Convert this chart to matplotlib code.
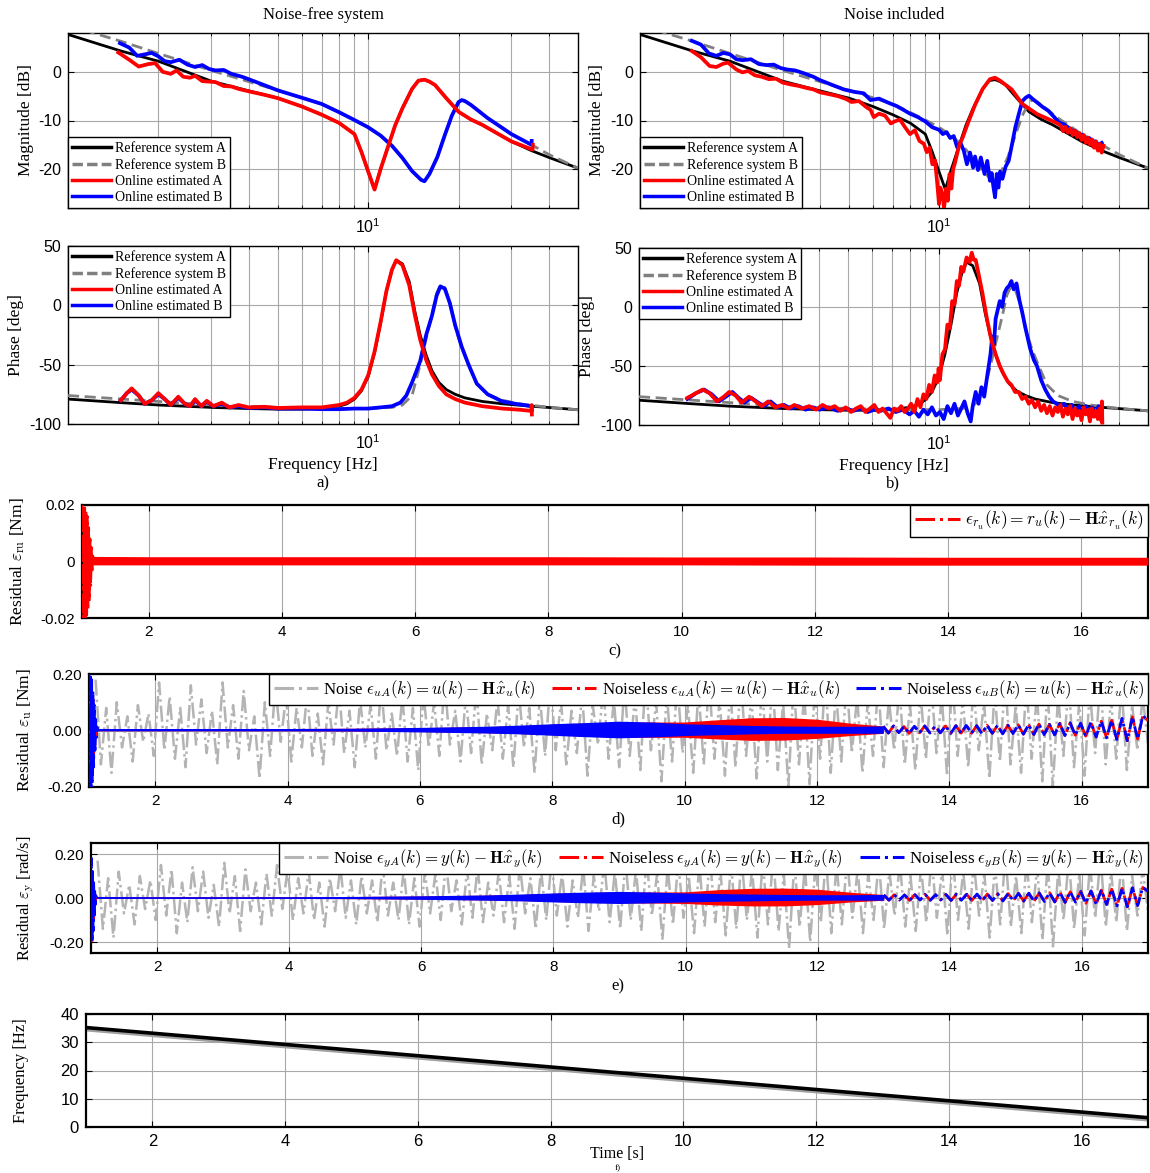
import numpy as np
import matplotlib.pyplot as plt
from matplotlib.lines import Line2D
from matplotlib.ticker import NullFormatter
import matplotlib.transforms as mtransforms

plt.rcParams['font.family'] = ['Liberation Serif', 'DejaVu Serif']
plt.rcParams['mathtext.fontset'] = 'cm'
plt.rcParams['axes.unicode_minus'] = False
SANS = ['Liberation Sans', 'DejaVu Sans']
NARROW = ['Liberation Sans Narrow', 'Liberation Sans', 'DejaVu Sans']

# ---------------- Bode data (frequency [Hz], value) ----------------
ref_A_mag = [(1, 7.7), (1.5, 4.3), (2, 2.2), (3, -1.9), (4, -3.9), (5, -5.4), (6, -7.1),
             (7, -8.8), (8, -10.5), (9, -12.8), (9.5, -16.5), (10, -20.5), (10.5, -24.2),
             (11, -20.0), (11.6, -15.7), (12.3, -11.0), (13, -7.5), (14, -3.5), (14.7, -1.8),
             (15.4, -1.6), (16, -2.0), (16.7, -2.7), (18.2, -5.4), (20, -8.2), (22, -9.8),
             (24, -10.9), (27, -12.7), (30, -14.3), (35, -16.2), (40, -17.6), (50, -19.8)]
ref_B_mag = [(1, 9.6), (1.5, 6.3), (2, 3.8), (3, 0.3), (4, -2.0), (5, -3.8), (6, -5.3),
             (7, -6.6), (8, -8.3), (9, -9.9), (10, -11.4), (11, -13.1), (12, -15.2),
             (13, -17.7), (14, -20.4), (15, -22.2), (15.4, -22.5), (16, -21.0), (17, -17.5),
             (18, -13.0), (19, -9.0), (20, -6.2), (20.5, -5.8), (21, -6.0), (22, -6.8),
             (25, -9.5), (30, -12.8), (35, -15.0), (40, -17.0), (50, -19.8)]
ref_A_phase = [(1, -79), (1.5, -82), (2, -84), (3, -86), (4, -87), (5, -87.5), (6, -87.5),
               (7, -87), (8, -85), (8.5, -83), (9, -79), (9.5, -72), (10, -60), (10.5, -40),
               (11, -15), (11.5, 12), (12, 30), (12.4, 38), (13, 35), (13.7, 20), (14.3, -5),
               (14.9, -25), (15.6, -42), (16.3, -55), (17.2, -65), (18.2, -71), (19.5, -75),
               (21, -78), (24, -81), (28, -83), (35, -85), (42, -86.5), (50, -88)]
ref_B_phase = [(1, -76), (2, -81), (3, -84), (5, -86), (7, -87), (10, -87), (12, -86),
               (13, -84), (14, -76), (14.9, -50), (15.6, -28), (16.3, -8), (16.9, 10),
               (17.4, 17), (18, 15), (18.7, 3), (19.5, -18), (20.5, -36), (21.6, -50),
               (23, -66), (25, -75), (28, -80), (32, -83), (40, -86), (50, -88)]

# noise-free estimates
est_A_mag_clean = [(1.47, 4.0), (1.6, 2.5), (1.72, 1.1), (1.85, 1.6), (1.95, 1.8), (2.07, 0.0),
                   (2.2, -0.4), (2.3, 0.3), (2.42, -1.0), (2.55, -1.2), (2.65, -0.8), (2.8, -1.9),
                   (2.95, -2.0), (3.1, -2.1), (3.3, -2.9), (3.5, -3.0), (3.7, -3.5), (4.0, -4.0),
                   (4.5, -4.7), (5, -5.4), (6, -7.1), (7, -8.8), (8, -10.5), (9, -12.8),
                   (9.5, -16.5), (10, -20.5), (10.5, -24.2), (11, -20.0), (11.6, -15.7),
                   (12.3, -11.0), (13, -7.5), (14, -3.5), (14.7, -1.8), (15.4, -1.6), (16, -2.0),
                   (16.7, -2.7), (18.2, -5.4), (20, -8.2), (22, -9.8), (24, -10.9), (27, -12.7),
                   (30, -14.3), (33, -15.3), (35.3, -16.0), (35.35, -15.0)]
est_B_mag_clean = [(1.49, 5.9), (1.6, 5.0), (1.7, 3.3), (1.8, 3.6), (1.9, 3.9), (2.0, 3.2),
                   (2.1, 2.2), (2.2, 2.0), (2.35, 2.5), (2.5, 1.5), (2.65, 1.0), (2.8, 1.4),
                   (2.95, 0.6), (3.1, 0.3), (3.3, 0.4), (3.5, -0.4), (3.8, -1.0), (4.2, -2.0),
                   (5, -3.8), (6, -5.3), (7, -6.6), (8, -8.3), (9, -9.9), (10, -11.4),
                   (11, -13.1), (12, -15.2), (13, -17.7), (14, -20.4), (15, -22.2), (15.4, -22.5),
                   (16, -21.0), (17, -17.5), (18, -13.0), (19, -9.0), (20, -6.2), (20.5, -5.8),
                   (21, -6.0), (22, -6.8), (25, -9.5), (30, -12.8), (35, -15.0), (35.05, -14.2)]
est_A_phase_clean = [(1.5, -80), (1.57, -74), (1.63, -70), (1.72, -76), (1.8, -83), (1.9, -80),
                     (2.0, -74), (2.1, -79), (2.2, -84), (2.33, -77), (2.45, -83), (2.55, -85),
                     (2.65, -79), (2.78, -85), (2.9, -80.5), (3.05, -85), (3.25, -82),
                     (3.45, -86), (3.7, -84), (4.0, -86), (4.5, -85.5), (5, -86.5), (6, -86),
                     (7, -86), (8, -84), (8.5, -82), (9, -78), (9.5, -71), (10, -59),
                     (10.5, -39), (11, -14), (11.5, 12), (12, 30), (12.4, 38), (13, 34),
                     (13.7, 17), (14.3, -8), (14.9, -29), (15.6, -46), (16.3, -58), (17.2, -68),
                     (18.2, -75), (19.5, -79), (21, -82), (24, -85), (28, -87), (32, -88),
                     (35, -89), (35.05, -84), (35.1, -92)]
est_B_phase_clean = [(1.5, -80), (1.57, -74), (1.63, -71), (1.72, -76), (1.8, -83), (1.9, -80),
                     (2.0, -75), (2.1, -79), (2.2, -84), (2.33, -78), (2.45, -83), (2.55, -85),
                     (2.65, -80), (2.78, -85), (2.9, -81), (3.05, -85), (3.25, -83),
                     (3.45, -86), (3.7, -85), (4.0, -86.5), (4.5, -86), (5, -87), (6, -87),
                     (7, -87.5), (8, -87.5), (9, -87), (10, -87), (11, -86), (12, -85),
                     (12.8, -82), (13.4, -76), (14, -65), (14.5, -55), (14.9, -47), (15.6, -25),
                     (16.3, -9), (16.9, 8), (17.4, 16), (18.0, 14), (18.7, 2), (19.5, -17),
                     (20.5, -35), (21.6, -50), (23, -66), (25, -75), (28, -81), (31, -83),
                     (35, -85)]

# estimates with measurement noise
est_A_mag_noisy = [(1.49, 4.3), (1.6, 3.0), (1.71, 1.2), (1.8, 1.0), (1.9, 1.7), (1.97, 1.9),
                   (2.1, 0.5), (2.2, -0.1), (2.3, 0.2), (2.42, -0.7), (2.55, -1.0), (2.7, -1.5),
                   (2.85, -1.4), (3.0, -2.2), (3.2, -2.6), (3.4, -2.9), (3.6, -3.3), (3.8, -3.6),
                   (4.0, -4.2), (4.3, -4.6), (4.6, -5.0), (4.9, -5.6), (5.1, -6.2), (5.4, -6.0),
                   (5.7, -7.2), (5.9, -7.8), (6.05, -9.3), (6.3, -8.6), (6.6, -9.0), (6.9, -10.6),
                   (7.1, -10.2), (7.4, -9.8), (7.7, -11.4), (8.0, -12.8), (8.3, -12.0),
                   (8.6, -14.2), (8.9, -14.8), (9.1, -16.5), (9.3, -15.6), (9.5, -19.0),
                   (9.7, -18.2), (9.85, -22.5), (10.0, -27.2), (10.1, -23.8), (10.25, -25.0),
                   (10.4, -28.0), (10.55, -24.0), (10.7, -26.5), (10.85, -21.0), (11.0, -24.0),
                   (11.15, -20.0), (11.3, -18.8), (11.5, -16.8), (11.7, -15.0), (12.0, -13.5),
                   (12.5, -10.5), (13.2, -6.8), (14.0, -3.5), (14.8, -1.5), (15.4, -1.2),
                   (16.0, -1.8), (17.5, -3.6), (19.0, -6.6), (21.3, -8.7), (23.0, -9.6),
                   (24.5, -10.4), (25.5, -11.0), (26.0, -12.2), (26.5, -11.3), (27.0, -12.5),
                   (27.5, -11.6), (28.0, -13.0), (28.5, -12.1), (29.0, -13.4), (29.5, -12.6),
                   (30.0, -14.0), (30.5, -13.0), (31.0, -14.6), (31.5, -13.5), (32.0, -15.0),
                   (32.5, -13.9), (33.0, -15.6), (33.5, -14.3), (34.0, -16.2), (34.5, -14.8),
                   (35.0, -16.6), (35.5, -15.2)]
est_B_mag_noisy = [(1.49, 6.4), (1.6, 5.6), (1.7, 3.8), (1.8, 3.3), (1.9, 3.9), (2.0, 3.6),
                   (2.1, 2.6), (2.2, 2.4), (2.35, 2.6), (2.5, 1.6), (2.65, 1.4), (2.8, 1.5),
                   (2.95, 0.8), (3.1, 0.5), (3.3, 0.3), (3.5, -0.2), (3.8, -1.0), (4.0, -1.7),
                   (4.4, -2.7), (4.8, -3.6), (5.2, -4.1), (5.6, -4.4), (5.9, -5.8), (6.3, -5.5),
                   (6.8, -6.4), (7.2, -7.0), (7.6, -7.8), (8.0, -8.6), (8.5, -9.3), (9.0, -10.2),
                   (9.5, -11.4), (10.0, -11.9), (10.3, -12.8), (10.6, -12.4), (10.9, -13.6),
                   (11.2, -13.2), (11.5, -15.5), (11.8, -14.6), (12.1, -16.2), (12.4, -19.0),
                   (12.7, -16.6), (13.0, -19.7), (13.2, -17.4), (13.5, -20.2), (13.8, -17.6),
                   (14.2, -21.0), (14.5, -18.3), (14.8, -22.4), (15.0, -20.8), (15.2, -23.6),
                   (15.4, -25.8), (15.6, -21.0), (15.8, -23.8), (16.0, -20.5), (16.3, -22.0),
                   (16.7, -19.5), (17.1, -18.3), (17.6, -14.5), (18.0, -11.4), (18.5, -8.6),
                   (19.0, -6.0), (19.5, -5.3), (20.0, -4.9), (20.6, -5.6), (21.3, -6.3),
                   (22.2, -7.2), (23.2, -8.0), (24.2, -9.2), (25.2, -10.4), (26.2, -10.8),
                   (27.0, -11.4), (27.8, -12.0), (28.6, -12.2), (29.4, -13.1), (30.2, -12.9),
                   (31.0, -13.8), (31.8, -13.6), (32.6, -14.4), (33.4, -14.3), (34.2, -15.0),
                   (35.0, -14.6)]
est_A_phase_noisy = [(1.45, -77), (1.55, -73), (1.63, -70), (1.72, -73), (1.82, -80), (1.92, -76),
                     (2.0, -72), (2.1, -75), (2.2, -81), (2.33, -76), (2.45, -80), (2.57, -84),
                     (2.7, -80), (2.85, -85), (3.0, -83), (3.15, -86), (3.3, -83), (3.5, -86),
                     (3.7, -84), (3.9, -87), (4.1, -83), (4.3, -86), (4.5, -84), (4.7, -88),
                     (4.9, -85), (5.1, -89), (5.3, -86), (5.5, -84), (5.7, -89), (5.9, -86),
                     (6.1, -83), (6.3, -89), (6.5, -86), (6.7, -90), (6.9, -94), (7.1, -86),
                     (7.3, -88), (7.5, -84), (7.7, -89), (7.9, -86), (8.1, -82), (8.3, -89),
                     (8.5, -78), (8.7, -85), (8.9, -74), (9.1, -78), (9.3, -66), (9.5, -72),
                     (9.7, -58), (9.9, -64), (10.0, -52), (10.1, -62), (10.3, -40), (10.5, -36),
                     (10.7, -15), (10.9, -18), (11.1, 5), (11.3, 2), (11.5, 22), (11.7, 18),
                     (11.9, 34), (12.1, 30), (12.4, 42), (12.7, 38), (12.9, 46), (13.1, 40),
                     (13.3, 40), (13.6, 28), (14.0, 12), (14.5, -10), (15.0, -28), (15.5, -40),
                     (16.0, -50), (16.5, -57), (17.0, -63), (17.5, -66), (18.0, -72), (18.5, -72),
                     (19.0, -78), (19.5, -76), (20.0, -82), (20.5, -79), (21.0, -85), (21.5, -80),
                     (22.0, -88), (22.5, -83), (23.0, -90), (23.5, -84), (24.0, -92), (24.5, -85),
                     (25.0, -89), (25.5, -83), (26.0, -93), (26.5, -86), (27.0, -91), (27.5, -84),
                     (28.0, -95), (28.5, -86), (29.0, -92), (29.5, -88), (30.0, -96), (30.5, -85),
                     (31.0, -91), (31.5, -87), (32.0, -97), (32.5, -86), (33.0, -93), (33.5, -88),
                     (34.0, -95), (34.5, -86), (35.0, -97), (35.1, -80), (35.2, -98)]
est_B_phase_noisy = [(1.45, -78), (1.55, -73), (1.65, -70), (1.75, -74), (1.85, -80), (1.95, -76),
                     (2.05, -72), (2.15, -77), (2.25, -81), (2.37, -77), (2.5, -81), (2.62, -84),
                     (2.75, -80), (2.9, -85), (3.05, -83), (3.2, -86), (3.4, -84), (3.6, -87),
                     (3.8, -85), (4.0, -87), (4.3, -85), (4.6, -88), (4.9, -86), (5.2, -88),
                     (5.5, -86), (5.8, -89), (6.1, -87), (6.4, -88), (6.8, -86), (7.2, -89),
                     (7.6, -87), (8.0, -91), (8.3, -88), (8.6, -93), (8.9, -87), (9.2, -91),
                     (9.5, -85), (9.8, -92), (10.1, -89), (10.4, -95), (10.7, -84), (11.0, -90),
                     (11.3, -82), (11.6, -92), (11.9, -86), (12.2, -80), (12.5, -90), (12.8, -97),
                     (13.0, -84), (13.3, -72), (13.6, -82), (13.9, -68), (14.2, -76), (14.5, -60),
                     (14.7, -50), (14.9, -40), (15.1, -25), (15.3, -32), (15.5, -10), (15.7, -4),
                     (16.0, 5), (16.3, 0), (16.6, 12), (16.9, 16), (17.2, 18), (17.5, 22),
                     (17.8, 15), (18.2, 20), (18.6, 6), (19.0, -4), (19.5, -18), (20.2, -35),
                     (20.8, -45), (21.3, -50), (22.0, -62), (22.7, -70), (23.4, -76), (24.1, -80),
                     (24.8, -82), (25.5, -85), (26.2, -82), (27.0, -87), (27.8, -83), (28.6, -89),
                     (29.4, -84), (30.2, -90), (31.0, -84), (31.8, -89), (32.6, -85), (33.4, -90),
                     (34.2, -84), (35.0, -88)]

bode_labels = ['Reference system A', 'Reference system B', 'Online estimated A', 'Online estimated B']

# ---------------- residual data ----------------
# c) r_u residual: start-up transient and envelope of the fast ripple
c_transient = [0.02, -0.02, 0.02, -0.02, 0.019, -0.02, 0.018, -0.019, 0.016, -0.017,
               0.012, -0.014, 0.008, -0.009, 0.005, -0.004, 0.002, 0.001]
c_env_t = [1.15, 2, 4, 6, 8, 10, 12, 14, 16, 17]
c_env_hi = [0.0018, 0.0017, 0.0017, 0.0017, 0.0017, 0.0016, 0.0016, 0.0015, 0.0015, 0.0015]
c_env_lo = [-0.0012, -0.0012, -0.0012, -0.0012, -0.0012, -0.0012, -0.0013, -0.0013, -0.0013, -0.0013]

# d) u residual
d_noise = [0.18, -0.12, 0.08, -0.15, 0.10, -0.06, 0.05, -0.11, 0.09, -0.04,
           0.06, -0.09, 0.17, -0.07, 0.12, -0.10, 0.08, -0.13, 0.16, -0.05,
           0.11, -0.08, 0.07, -0.12, 0.17, -0.06, 0.09, -0.10, 0.14, -0.07,
           0.05, -0.17, 0.10, -0.09, 0.16, -0.04, 0.12, -0.11, 0.08, -0.06,
           0.13, -0.09, 0.06, -0.12, 0.10, -0.05, 0.15, -0.08, 0.07, -0.13,
           0.11, -0.06, 0.09, -0.10, 0.16, -0.07, 0.06, -0.09, 0.12, -0.11,
           0.08, -0.14, 0.13, -0.06, 0.10, -0.09, 0.17, -0.05, 0.07, -0.11,
           0.12, -0.08, 0.15, -0.12, 0.06, -0.07, 0.11, -0.10, 0.09, -0.13,
           0.14, -0.06, 0.08, -0.15, 0.12, -0.09, 0.18, -0.07, 0.10, -0.12,
           0.07, -0.08, 0.13, -0.16, 0.09, -0.05, 0.15, -0.10, 0.11, -0.13,
           0.16, -0.09, 0.12, -0.14, 0.19, -0.07, 0.10, -0.18, 0.13, -0.11,
           0.17, -0.08, 0.09, -0.15, 0.14, -0.12, 0.18, -0.10, 0.11, -0.16,
           0.15, -0.13, 0.19, -0.09, 0.12, -0.17, 0.16, -0.11, 0.18, -0.14,
           0.10, -0.20, 0.17, -0.12, 0.13, -0.19, 0.15, -0.10, 0.19, -0.15,
           0.14, -0.11, 0.17, -0.08, 0.12, -0.15, 0.10, -0.09, 0.16, -0.13,
           0.11, -0.07, 0.15, -0.12, 0.09, -0.14, 0.13, -0.10, 0.17, -0.08,
           0.12, -0.16, 0.18, -0.09, 0.11, -0.13, 0.15, -0.07, 0.10, -0.17,
           0.14, -0.11, 0.19, -0.12, 0.09, -0.15, 0.16, -0.10, 0.13, -0.18,
           0.15, -0.20, 0.12, -0.09, 0.17, -0.13, 0.10, -0.16, 0.14, -0.08,
           0.18, -0.12, 0.11, -0.10, 0.16, -0.14, 0.09, -0.07, 0.12, -0.05]
d_transient_A = [0.17, -0.18, 0.16, -0.17, 0.14, -0.15, 0.11, -0.10, 0.07, -0.05, 0.03, -0.02, 0.01, 0.004]
d_transient_B = [0.20, -0.20, 0.20, -0.20, 0.18, -0.19, 0.14, -0.13, 0.09, -0.07, 0.04, -0.025, 0.012, 0.004]
d_env_t = [1.12, 2, 4, 5, 6, 7, 7.5, 8, 8.5, 9, 9.5, 10, 10.5, 11, 11.5, 12, 12.5, 13]
d_A_hi = [0.007, 0.007, 0.007, 0.008, 0.010, 0.014, 0.017, 0.022, 0.026, 0.030, 0.030, 0.030, 0.038, 0.045, 0.046, 0.040, 0.026, 0.016]
d_A_lo = [-0.001, -0.001, -0.001, -0.002, -0.004, -0.008, -0.011, -0.015, -0.020, -0.024, -0.024, -0.024, -0.030, -0.035, -0.034, -0.028, -0.018, -0.010]
d_B_hi = [0.007, 0.007, 0.007, 0.008, 0.011, 0.015, 0.019, 0.024, 0.028, 0.033, 0.030, 0.024, 0.021, 0.018, 0.016, 0.015, 0.015, 0.016]
d_B_lo = [-0.001, -0.001, -0.001, -0.002, -0.005, -0.009, -0.012, -0.017, -0.022, -0.026, -0.023, -0.018, -0.015, -0.012, -0.010, -0.010, -0.010, -0.010]
d_late = [0.015, -0.009, 0.016, -0.008, 0.014, -0.010, 0.015, -0.008, 0.016, -0.009, 0.015, -0.008, 0.016,
          -0.010, 0.017, -0.009, 0.018, -0.010, 0.017, -0.011, 0.019, -0.010, 0.018, -0.012, 0.019, -0.011,
          0.020, -0.013, 0.021, -0.014, 0.023, -0.015, 0.022, -0.016, 0.025, -0.018, 0.027, -0.017, 0.026,
          -0.020, 0.029, -0.023, 0.033, -0.026, 0.036, -0.032, 0.043, -0.036, 0.048, -0.030, 0.052, 0.035]

# e) y residual
e_noise = [0.17, -0.14, 0.09, -0.18, 0.12, -0.07, 0.06, -0.12, 0.10, -0.05,
           0.08, -0.10, 0.15, -0.08, 0.13, -0.16, 0.07, -0.11, 0.14, -0.06,
           0.12, -0.09, 0.06, -0.13, 0.16, -0.07, 0.10, -0.15, 0.13, -0.06,
           0.07, -0.12, 0.11, -0.08, 0.15, -0.05, 0.13, -0.10, 0.09, -0.07,
           0.12, -0.10, 0.07, -0.13, 0.09, -0.06, 0.14, -0.09, 0.08, -0.12,
           0.10, -0.07, 0.08, -0.11, 0.15, -0.08, 0.07, -0.10, 0.13, -0.12,
           0.09, -0.13, 0.12, -0.07, 0.11, -0.10, 0.16, -0.06, 0.08, -0.12,
           0.13, -0.09, 0.14, -0.11, 0.07, -0.08, 0.12, -0.11, 0.10, -0.14,
           0.15, -0.07, 0.09, -0.14, 0.13, -0.10, 0.17, -0.08, 0.11, -0.13,
           0.08, -0.09, 0.14, -0.15, 0.10, -0.06, 0.16, -0.11, 0.12, -0.14,
           0.17, -0.10, 0.13, -0.15, 0.18, -0.08, 0.11, -0.19, 0.14, -0.12,
           0.16, -0.09, 0.10, -0.16, 0.15, -0.13, 0.19, -0.11, 0.12, -0.17,
           0.16, -0.14, 0.18, -0.10, 0.13, -0.18, 0.17, -0.12, 0.19, -0.15,
           0.11, -0.23, 0.16, -0.13, 0.14, -0.20, 0.16, -0.11, 0.18, -0.16,
           0.15, -0.12, 0.18, -0.09, 0.13, -0.16, 0.11, -0.10, 0.17, -0.14,
           0.12, -0.08, 0.16, -0.13, 0.10, -0.15, 0.14, -0.11, 0.18, -0.09,
           0.13, -0.17, 0.19, -0.10, 0.12, -0.14, 0.16, -0.08, 0.11, -0.18,
           0.15, -0.12, 0.20, -0.13, 0.10, -0.16, 0.17, -0.11, 0.14, -0.19,
           0.16, -0.22, 0.13, -0.10, 0.18, -0.14, 0.11, -0.17, 0.15, -0.09,
           0.19, -0.13, 0.12, -0.11, 0.17, -0.15, 0.10, -0.08, 0.13, -0.06]
e_transient_A = [0.0, 0.10, -0.20, 0.08, -0.10, 0.05, -0.05, 0.02, -0.02, 0.01, 0.003]
e_transient_B = [0.0, 0.18, -0.19, 0.12, -0.15, 0.07, -0.08, 0.03, -0.03, 0.01, 0.003]
e_env_t = [1.08, 2, 4, 5, 6, 7, 7.5, 8, 8.5, 9, 9.5, 10, 10.5, 11, 11.5, 12, 12.5, 13]
e_A_hi = [0.007, 0.006, 0.006, 0.007, 0.009, 0.013, 0.016, 0.021, 0.025, 0.027, 0.027, 0.028, 0.038, 0.044, 0.045, 0.040, 0.026, 0.016]
e_A_lo = [-0.002, -0.002, -0.002, -0.003, -0.005, -0.009, -0.012, -0.016, -0.020, -0.022, -0.023, -0.025, -0.032, -0.036, -0.036, -0.030, -0.018, -0.010]
e_B_hi = [0.007, 0.006, 0.006, 0.007, 0.010, 0.014, 0.018, 0.023, 0.027, 0.030, 0.027, 0.023, 0.020, 0.018, 0.016, 0.015, 0.015, 0.016]
e_B_lo = [-0.002, -0.002, -0.002, -0.003, -0.006, -0.010, -0.013, -0.018, -0.022, -0.025, -0.022, -0.018, -0.015, -0.013, -0.011, -0.010, -0.010, -0.010]
e_late = [0.014, -0.010, 0.015, -0.009, 0.014, -0.011, 0.015, -0.009, 0.016, -0.010, 0.015, -0.009, 0.016,
          -0.011, 0.017, -0.010, 0.017, -0.011, 0.018, -0.012, 0.018, -0.011, 0.019, -0.013, 0.020, -0.012,
          0.021, -0.014, 0.022, -0.015, 0.023, -0.016, 0.024, -0.018, 0.026, -0.020, 0.028, -0.019, 0.030,
          -0.024, 0.032, -0.028, 0.036, -0.030, 0.040, -0.036, 0.044, -0.040, 0.046, -0.034, 0.048, 0.030]

# f) excitation frequency
sweep_t = [1, 17]
sweep_f = [35.2, 3.3]

# ---------------- figure ----------------
W, H = 1150, 1173
fig = plt.figure(figsize=(W / 100, H / 100), dpi=100)


def box(x0, y0, x1, y1):
    return fig.add_axes([x0 / W, 1 - y1 / H, (x1 - x0) / W, (y1 - y0) / H])


def xy(pairs):
    a = np.array(pairs, dtype=float)
    return a[:, 0], a[:, 1]


def bode(ax, refA, refB, estA, estB, ylim, yticks, ylabel, loc, labx):
    ax.plot(*xy(refA), color='k', lw=2.0, zorder=3)
    ax.plot(*xy(refB), color='#808080', lw=2.0, ls=(0, (4, 2)), zorder=3)
    ax.plot(*xy(estB), color='#0000ff', lw=2.7, zorder=4)
    ax.plot(*xy(estA), color='#ff0000', lw=2.7, zorder=5)
    ax.set_xscale('log')
    ax.set_xlim(1, 50)
    ax.set_ylim(*ylim)
    ax.set_yticks(yticks)
    ax.set_xticks([10])
    ax.set_xticklabels([r'$\mathregular{10^1}$'])
    ax.set_xticks([2, 3, 4, 5, 6, 7, 8, 9, 20, 30, 40], minor=True)
    ax.xaxis.set_minor_formatter(NullFormatter())
    ax.grid(True, which='both', color='#a8a8a8', lw=0.8)
    ax.tick_params(which='both', direction='in', top=True, right=True, labelsize=11.5,
                   labelfontfamily=SANS, length=4, pad=5)
    ax.tick_params(which='minor', length=2.5)
    ax.tick_params(axis='x', pad=7)
    ax.set_ylabel(ylabel, fontsize=12.5)
    ax.yaxis.set_label_coords(labx, 0.5)
    for s in ax.spines.values():
        s.set_linewidth(1.0)
    hs = [Line2D([], [], color='k', lw=2.5), Line2D([], [], color='#808080', lw=2.5, ls=(0, (3, 1.2))),
          Line2D([], [], color='#ff0000', lw=2.5), Line2D([], [], color='#0000ff', lw=2.5)]
    leg = ax.legend(hs, bode_labels, loc=loc, fancybox=False, edgecolor='k', framealpha=1,
                    fontsize=10, handlelength=2.8, handletextpad=0.25, borderaxespad=0,
                    labelspacing=0.22, borderpad=0.3)
    leg.get_frame().set_linewidth(1.0)
    leg.set_zorder(10)


# Bode plots
axm1 = box(68, 33, 578, 208)
bode(axm1, ref_A_mag, ref_B_mag, est_A_mag_clean, est_B_mag_clean, (-28, 8), [-20, -10, 0],
     'Magnitude [dB]', 'lower left', -0.067)
axm1.set_title('Noise-free system', fontsize=12, pad=10)
axm2 = box(640, 33, 1148, 208)
bode(axm2, ref_A_mag, ref_B_mag, est_A_mag_noisy, est_B_mag_noisy, (-28, 8), [-20, -10, 0],
     'Magnitude [dB]', 'lower left', -0.069)
axm2.set_title('Noise included', fontsize=12, pad=10)
axp1 = box(68, 246, 578, 424)
bode(axp1, ref_A_phase, ref_B_phase, est_A_phase_clean, est_B_phase_clean, (-100, 50),
     [-100, -50, 0, 50], 'Phase [deg]', 'upper left', -0.086)
axp2 = box(639, 248, 1148, 425)
bode(axp2, ref_A_phase, ref_B_phase, est_A_phase_noisy, est_B_phase_noisy, (-100, 50),
     [-100, -50, 0, 50], 'Phase [deg]', 'upper left', -0.086)
for ax in (axp1, axp2):
    ax.set_xlabel('Frequency [Hz]', fontsize=12.5, labelpad=3)


def time_axes(ax, ylabel, labx, fs=12.5):
    ax.set_xlim(1, 17)
    ax.set_xticks(range(2, 17, 2))
    ax.grid(True, color='#a8a8a8', lw=0.8)
    ax.tick_params(direction='in', top=True, right=True, labelsize=11, labelfontfamily=NARROW,
                   length=4, pad=5)
    ax.set_ylabel(ylabel, fontsize=fs)
    ax.yaxis.set_label_coords(labx, 0.5)
    for s in ax.spines.values():
        s.set_linewidth(1.6)


def residual_legend(ax, labels, colors, fs):
    hs = [Line2D([], [], color=c, lw=2.2, ls='-.') for c in colors]
    leg = ax.legend(hs, labels, loc='upper right', ncol=len(labels), fancybox=False, edgecolor='k',
                    framealpha=1, fontsize=fs, handlelength=2.6, handletextpad=0.3,
                    columnspacing=1.0, borderaxespad=0, borderpad=0.25)
    leg.get_frame().set_linewidth(1.0)
    leg.set_zorder(10)


# c)
axc = box(82, 505, 1148, 618)
axc.plot(np.linspace(1.0, 1.17, len(c_transient)), c_transient, color='#ff0000', lw=2, ls='-.', zorder=3)
axc.fill_between(c_env_t, c_env_lo, c_env_hi, color='#ff0000', lw=0, zorder=3)
axc.set_ylim(-0.02, 0.02)
axc.set_yticks([-0.02, 0, 0.02])
axc.set_yticklabels(['-0.02', '0', '0.02'])
time_axes(axc, r'Residual $\varepsilon_{\rm ru}$ [Nm]', -0.052)
residual_legend(axc, [r'$\epsilon_{r_u}(k) = r_u(k) - \mathbf{H}\hat{x}_{r_u}(k)$'], ['#ff0000'], 12.5)


def residual_panel(ax, noise, trA, trB, env_t, Ahi, Alo, Bhi, Blo, late, tr_end):
    ax.plot(np.linspace(1.1, 17, len(noise)), noise, color='#b4b4b4', lw=1.8, ls='-.', zorder=2)
    ax.plot(np.linspace(1.0, tr_end, len(trA)), trA, color='#ff0000', lw=2, ls='-.', zorder=3)
    ax.fill_between(env_t, Alo, Ahi, color='#ff0000', lw=0, zorder=3)
    ax.plot(np.linspace(13, 17, len(late)), late, color='#ff0000', lw=2, ls='-.', zorder=3)
    ax.plot(np.linspace(1.0, tr_end, len(trB)), trB, color='#0000ff', lw=2, ls='-.', zorder=4)
    ax.fill_between(env_t, Blo, Bhi, color='#0000ff', lw=0, zorder=4)
    ax.plot(np.linspace(13, 17, len(late)), late, color='#0000ff', lw=2, zorder=4,
            dashes=(4, 1.5, 1, 1.5))


# d)
axd = box(89, 674, 1148, 787)
residual_panel(axd, d_noise, d_transient_A, d_transient_B, d_env_t, d_A_hi, d_A_lo, d_B_hi, d_B_lo,
               d_late, 1.13)
axd.set_ylim(-0.2, 0.2)
axd.set_yticks([-0.2, 0, 0.2])
axd.set_yticklabels(['-0.20', '0.00', '0.20'])
time_axes(axd, r'Residual $\varepsilon_{\rm u}$ [Nm]', -0.052)
residual_legend(axd, [r'Noise $\epsilon_{uA}(k) = u(k) - \mathbf{H}\hat{x}_u(k)$',
                      r'Noiseless $\epsilon_{uA}(k) = u(k) - \mathbf{H}\hat{x}_u(k)$',
                      r'Noiseless $\epsilon_{uB}(k) = u(k) - \mathbf{H}\hat{x}_u(k)$'],
                ['#b4b4b4', '#ff0000', '#0000ff'], 12.2)

# e)
axe = box(91, 843, 1148, 953)
residual_panel(axe, e_noise, e_transient_A, e_transient_B, e_env_t, e_A_hi, e_A_lo, e_B_hi, e_B_lo,
               e_late, 1.08)
axe.set_ylim(-0.25, 0.25)
axe.set_yticks([-0.2, 0, 0.2])
axe.set_yticklabels(['-0.20', '0.00', '0.20'])
time_axes(axe, r'Residual $\varepsilon_{\rm y}$ [rad/s]', -0.052, fs=12)
residual_legend(axe, [r'Noise $\epsilon_{yA}(k) = y(k) - \mathbf{H}\hat{x}_y(k)$',
                      r'Noiseless $\epsilon_{yA}(k) = y(k) - \mathbf{H}\hat{x}_y(k)$',
                      r'Noiseless $\epsilon_{yB}(k) = y(k) - \mathbf{H}\hat{x}_y(k)$'],
                ['#b4b4b4', '#ff0000', '#0000ff'], 12.2)

# f)
axf = box(86, 1014, 1148, 1127)
shadow = mtransforms.offset_copy(axf.transData, fig=fig, x=1.0, y=-1.5, units='points')
axf.plot(sweep_t, sweep_f, color='#a0a0a0', lw=2.8, transform=shadow)
axf.plot(sweep_t, sweep_f, color='k', lw=2.6)
axf.set_ylim(0, 40)
axf.set_yticks([0, 10, 20, 30, 40])
time_axes(axf, 'Frequency [Hz]', -0.054, fs=12)
axf.tick_params(labelsize=12)
axf.set_xlabel('Time [s]', fontsize=11.5, labelpad=-2)

# sub-figure tags
for txt, x, y, fs in [('a)', 323, 483, 12), ('b)', 893, 483, 12), ('c)', 615, 651, 12),
                      ('d)', 618, 819, 12), ('e)', 618, 986, 12), ('f)', 618, 1168, 6.5)]:
    fig.text(x / W, 1 - y / H, txt, ha='center', va='center', fontsize=fs)

fig.savefig('out.png', dpi=100)
